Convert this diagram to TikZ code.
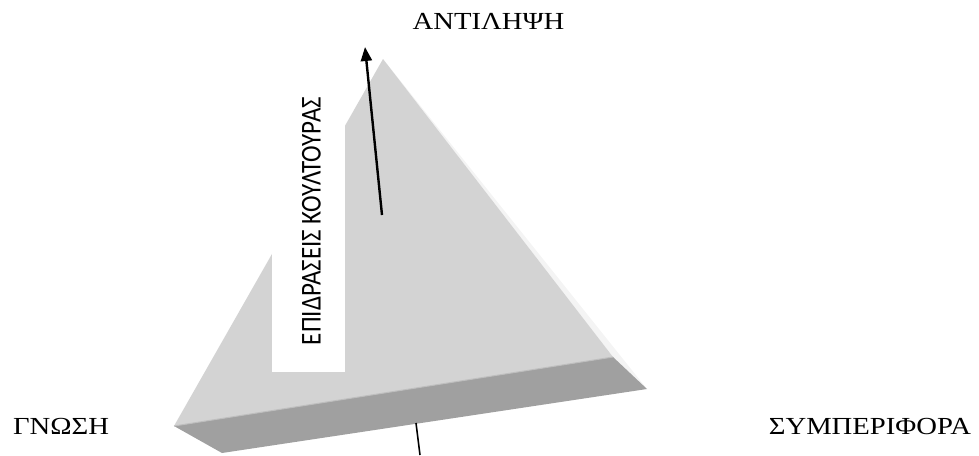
\documentclass[tikz,border=0pt]{standalone}
\usepackage{fontspec}
\usepackage{graphicx}
\setmainfont{Liberation Serif}
\newfontfamily\labelfont{Carlito}
\usetikzlibrary{arrows.meta, positioning, calc}
\definecolor{facegray}{RGB}{211,211,211}
\definecolor{sidegray}{RGB}{160,160,160}
\definecolor{edgegray}{RGB}{190,190,190}
\definecolor{rimgray}{RGB}{244,244,244}
\tikzset{
  cornerlabel/.style={font=\fontsize{24.5}{30}\selectfont, inner sep=0pt, anchor=base},
  sidelabel/.style={font=\labelfont\fontsize{25}{30}\selectfont, inner sep=0pt, rotate=90},
  arrow/.style={-{Triangle[length=14pt, width=11pt]}, line width=2.4pt, color=black},
  line/.style={line width=1.6pt, color=black}
}
\newcommand{\wide}[1]{\scalebox{1.17}[1]{#1}}
\newcommand{\tall}[1]{\scalebox{1}[1.15]{#1}}

\begin{document}
\begin{tikzpicture}[x=1pt, y=-1pt]
  \useasboundingbox (0,0) rectangle (979,455);

  % Pyramid
  \coordinate (apex) at (383,59);
  \coordinate (lft) at (174,426);
  \coordinate (rgt) at (613,357);
  \coordinate (lftlow) at (222,453);
  \coordinate (rgtlow) at (647,389);
  \fill[rimgray] (apex) -- (rgtlow) -- (rgt) -- cycle;
  \fill[sidegray] (lft) -- (rgt) -- (rgtlow) -- (lftlow) -- cycle;
  \fill[facegray] (apex) -- (rgt) -- (lft) -- cycle;
  \draw[edgegray, line width=1pt] (lft) -- (rgt);

  % Nodes
  \fill[white] (272,78) rectangle (345,372);
  \node[sidelabel] (culture) at (311.5,221) {\tall{ΕΠΙΔΡΑΣΕΙΣ ΚΟΥΛΤΟΥΡΑΣ}};
  \node[cornerlabel] (perception) at (488.5,29) {\wide{ΑΝΤΙΛΗΨΗ}};
  \node[cornerlabel] (knowledge) at (61,434) {\wide{ΓΝΩΣΗ}};
  \node[cornerlabel] (behaviour) at (870,434) {\wide{ΣΥΜΠΕΡΙΦΟΡΑ}};

  % Connections
  \coordinate (arrfrom) at (382,215);
  \coordinate (arrto) at (365,47);
  \coordinate (linefrom) at (416,423);
  \coordinate (lineto) at (420,455);
  \draw[arrow] (arrfrom) -- (arrto);
  \draw[line] (linefrom) -- (lineto);

\end{tikzpicture}
\end{document}
